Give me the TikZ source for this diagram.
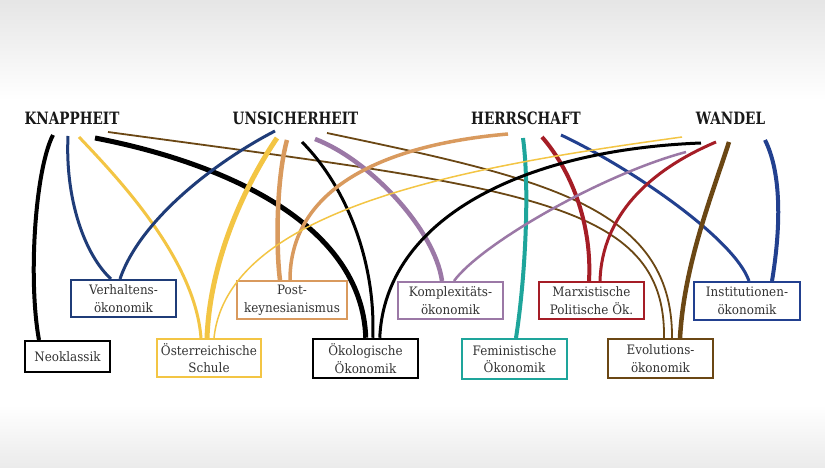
\documentclass[tikz,border=0pt]{standalone}
\usepackage{fontspec}
\setmainfont{DejaVu Serif}[FakeStretch=0.92]
\newfontfamily\hdfont{DejaVu Serif}[FakeStretch=0.8]
\definecolor{cnavy}{HTML}{1F3C78}
\definecolor{cblue}{HTML}{22408F}
\definecolor{cyellow}{HTML}{F3C544}
\definecolor{ctan}{HTML}{D99A5E}
\definecolor{cpurple}{HTML}{9B78A6}
\definecolor{cred}{HTML}{A51D26}
\definecolor{cteal}{HTML}{1EA59B}
\definecolor{cbrown}{HTML}{6B4714}
\definecolor{ctext}{HTML}{333333}
\tikzset{
  hdr/.style={font=\hdfont\fontsize{17}{20}\selectfont\bfseries, text=black!90, inner sep=0pt},
  box/.style={draw=#1, line width=2pt, fill=white, text=ctext, align=center,
    font=\fontsize{13}{17.5}\selectfont, inner sep=0pt},
  conn/.style={line width=#1},
}
\begin{document}
\begin{tikzpicture}[x=1pt,y=-1pt]
\useasboundingbox (0,0) rectangle (825,468);
\shade[top color=black!10, bottom color=white] (0,0) rectangle (825,100);
\fill[white] (0,100) rectangle (825,405);
\shade[top color=white, bottom color=black!8] (0,405) rectangle (825,468);

% headers
\node[hdr] (knap) at (72,118) {KNAPPHEIT};
\node[hdr] (unsi) at (295.5,118) {UNSICHERHEIT};
\node[hdr] (herr) at (526,118) {HERRSCHAFT};
\node[hdr] (wand) at (730.5,118) {WANDEL};

% boxes
\node[box=cnavy, minimum width=105pt, minimum height=37pt] (verh) at (123.5,298.5) {Verhaltens-\\ökonomik};
\node[box=ctan, minimum width=110pt, minimum height=38pt] (post) at (292,300) {Post-\\keynesianismus};
\node[box=cpurple, minimum width=105pt, minimum height=37pt] (kompl) at (450.5,300.5) {Komplexitäts-\\ökonomik};
\node[box=cred, minimum width=105pt, minimum height=37pt] (marx) at (591.5,300.5) {Marxistische\\Politische Ök.};
\node[box=cblue, minimum width=106pt, minimum height=38pt] (inst) at (747,301) {Institutionen-\\ökonomik};
\node[box=black, minimum width=85pt, minimum height=31pt] (neo) at (67.5,356.5) {Neoklassik};
\node[box=cyellow, minimum width=104pt, minimum height=38pt] (oest) at (209,358) {Österreichische\\Schule};
\node[box=black, line width=2.5pt, minimum width=105pt, minimum height=39pt] (oeko) at (365.5,358.5) {Ökologische\\Ökonomik};
\node[box=cteal, minimum width=105pt, minimum height=40pt] (fem) at (514.5,359) {Feministische\\Ökonomik};
\node[box=cbrown, minimum width=105pt, minimum height=39pt] (evol) at (660.5,358.5) {Evolutions-\\ökonomik};

% start points
\coordinate (k1) at (53,135);
\coordinate (k2) at (68,136);
\coordinate (k3) at (79,137);
\coordinate (k4) at (95,138);
\coordinate (k5) at (108,132);
\coordinate (u1) at (275,131);
\coordinate (u2) at (277,138);
\coordinate (u3) at (287,140);
\coordinate (u4) at (302,142);
\coordinate (u5) at (315,139);
\coordinate (u6) at (327,133);
\coordinate (h1) at (508,134);
\coordinate (h2) at (523,138);
\coordinate (h3) at (542,137);
\coordinate (h4) at (561,135);
\coordinate (w0) at (682,137);
\coordinate (w1) at (701,143);
\coordinate (w2) at (686,152);
\coordinate (w3) at (716,142);
\coordinate (w4) at (729,142);
\coordinate (w5) at (765,140);

% connectors
\draw[conn=4pt, black] (k1) .. controls (35,170) and (28,280) .. ([xshift=15pt]neo.north west);
\draw[conn=3pt, cnavy] (k2) .. controls (65,200) and (85,255) .. ([xshift=41pt]verh.north west);
\draw[conn=3pt, cyellow] (k3) .. controls (120,180) and (195,260) .. ([xshift=45pt]oest.north west);
\draw[conn=5pt, black] (k4) .. controls (220,162) and (362,222) .. ([xshift=54pt]oeko.north west);
\draw[conn=1.8pt, cbrown] (k5) .. controls (520,188) and (666,200) .. ([xshift=57pt]evol.north west);

\draw[conn=3pt, cnavy] (u1) .. controls (215,162) and (140,220) .. ([xshift=50pt]verh.north west);
\draw[conn=5pt, cyellow] (u2) .. controls (245,185) and (210,260) .. ([xshift=51pt]oest.north west);
\draw[conn=4.5pt, ctan] (u3) .. controls (276,180) and (276,250) .. ([xshift=44pt]post.north west);
\draw[conn=3pt, black] (u4) .. controls (345,185) and (376,260) .. ([xshift=61pt]oeko.north west);
\draw[conn=4.5pt, cpurple] (u5) .. controls (370,160) and (435,230) .. ([xshift=45pt]kompl.north west);
\draw[conn=1.8pt, cbrown] (u6) .. controls (540,178) and (673,205) .. ([xshift=65pt]evol.north west);

\draw[conn=3.5pt, ctan] (h1) .. controls (380,145) and (290,190) .. ([xshift=54pt]post.north west);
\draw[conn=4pt, cteal] (h2) .. controls (530,190) and (525,280) .. ([xshift=55pt]fem.north west);
\draw[conn=4pt, cred] (h3) .. controls (575,175) and (592,230) .. ([xshift=51pt]marx.north west);
\draw[conn=3pt, cblue] (h4) .. controls (635,170) and (735,240) .. ([xshift=56pt]inst.north west);

\draw[conn=1.5pt, cyellow] (w0) .. controls (480,165) and (228,205) .. ([xshift=58pt]oest.north west);
\draw[conn=3pt, black] (w1) .. controls (520,150) and (385,220) .. ([xshift=68pt]oeko.north west);
\draw[conn=2.5pt, cpurple] (w2) .. controls (600,175) and (480,245) .. ([xshift=57pt]kompl.north west);
\draw[conn=3pt, cred] (w3) .. controls (650,170) and (602,215) .. ([xshift=62pt]marx.north west);
\draw[conn=4.5pt, cbrown] (w4) .. controls (712,195) and (684,265) .. ([xshift=73pt]evol.north west);
\draw[conn=4pt, cblue] (w5) .. controls (785,180) and (778,245) .. ([xshift=79pt]inst.north west);
\end{tikzpicture}
\end{document}
